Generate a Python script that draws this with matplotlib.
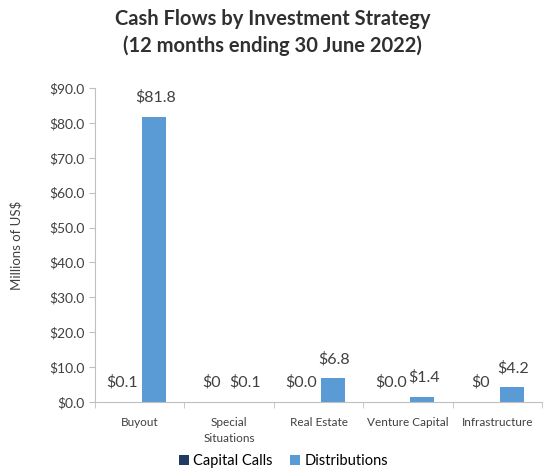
import numpy as np
import matplotlib.pyplot as plt

plt.rcParams['font.family'] = ['Lato', 'DejaVu Sans']

categories = ['Buyout', 'Special\nSituations', 'Real Estate', 'Venture Capital', 'Infrastructure']
capital_calls = [0.1, 0.0, 0.0, 0.0, 0.0]
distributions = [81.8, 0.1, 6.8, 1.4, 4.2]
call_labels = ['$0.1', '$0', '$0.0', '$0.0', '$0']
dist_labels = ['$81.8', '$0.1', '$6.8', '$1.4', '$4.2']

navy = '#1f3a63'
blue = '#5b9bd5'
grey = '#bfbfbf'

fig = plt.figure(figsize=(5.45, 4.73), dpi=100)
ax = fig.add_axes([0.174, 0.150, 0.821, 0.664])

x = np.arange(len(categories))
w = 0.27
off = 0.16
b1 = ax.bar(x - off, capital_calls, w, color=navy, label='Capital Calls')
b2 = ax.bar(x + off, distributions, w, color=blue, label='Distributions')

# data labels above each bar, nudged apart a little like the original
for bars, labels, dx in ((b1, call_labels, -2), (b2, dist_labels, 1)):
    for bar, lab in zip(bars, labels):
        ax.annotate(lab, (bar.get_x() + bar.get_width() / 2, bar.get_height()),
                    xytext=(dx, 14), textcoords='offset points',
                    ha='center', va='center', fontsize=11.5, color='#404040')

ax.set_xlim(-0.5, len(categories) - 0.5)
ax.set_ylim(0, 90)
ax.set_yticks(np.arange(0, 91, 10))
ax.set_yticklabels(['${:.1f}'.format(v) for v in np.arange(0, 91, 10)],
                   fontsize=10, color='#404040')
ax.set_xticks(x)
ax.set_xticklabels(categories, fontsize=8.5, color='#404040', linespacing=1.5)
ax.set_xticks(np.arange(-0.5, len(categories), 1), minor=True)
ax.tick_params(axis='x', which='major', length=0, pad=11)
ax.tick_params(axis='x', which='minor', length=4, color=grey)
ax.tick_params(axis='y', length=4, color=grey)

for s in ('top', 'right'):
    ax.spines[s].set_visible(False)
for s in ('left', 'bottom'):
    ax.spines[s].set_color(grey)

ax.set_ylabel('Millions of US$', fontsize=9.5, color='#404040', labelpad=19)

fig.suptitle('Cash Flows by Investment Strategy\n(12 months ending 30 June 2022)',
             x=0.5, y=0.98, fontsize=14.5, fontweight='bold', color='#303030',
             linespacing=1.35)

fig.legend(loc='lower center', bbox_to_anchor=(0.52, -0.018), ncol=2,
           frameon=False, fontsize=10.5, handlelength=0.7, handleheight=0.7,
           handletextpad=0.3, columnspacing=1.2)

fig.savefig('out.png', dpi=100)
